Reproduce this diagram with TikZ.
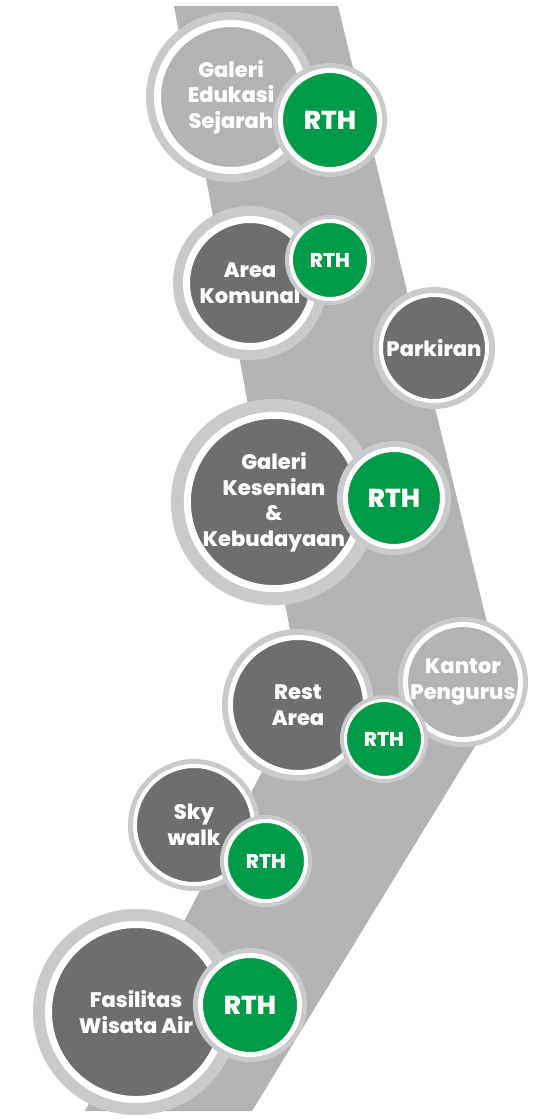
\documentclass[tikz,border=0pt]{standalone}
\usepackage{fontspec}
\setmainfont{Poppins}[BoldFont={Poppins ExtraBold}]
\usetikzlibrary{positioning}

\definecolor{bandgrey}{HTML}{B2B3B5}
\definecolor{ringgrey}{HTML}{C9CACB}
\definecolor{darkfill}{HTML}{6D6E70}
\definecolor{rthgreen}{HTML}{009B48}

\tikzset{
  spot/.style n args={3}{circle, inner sep=0pt, minimum size=#1pt, draw=white, line width=#2pt,
    preaction={draw=ringgrey, line width=#3pt}, text=white, align=center,
    font=\fontsize{21}{25.5}\selectfont\bfseries},
  zone/.style={fill=darkfill},
  office/.style={fill=bandgrey},
  rth/.style={fill=rthgreen, font=\fontsize{20}{24}\selectfont\bfseries},
  bigrth/.style={fill=rthgreen, font=\fontsize{26}{30}\selectfont\bfseries},
}

\begin{document}
\begin{tikzpicture}[x=1pt, y=-1pt]
    \path[use as bounding box, fill=white] (0,0) rectangle (541,1119);

    % walkway band behind everything
    \fill[bandgrey] (174,6) -- (338,6) -- (505,697) -- (252,1111) -- (85,1111) -- (302,695) -- cycle;

    % top gallery and its green space
    \node[spot={147}{7}{23}, office] (edukasi) at (231,97) {Galeri\\Edukasi\\Sejarah};
    \node[spot={99}{5}{15}, bigrth] (rth1) at (330,120) {RTH};

    % communal area
    \node[spot={127}{7}{27}, zone] (komunal) at (250,283) {Area\\Komunal};
    \node[spot={78}{4}{12}, rth] (rth2) at (330,260) {RTH};

    % parking
    \node[spot={106}{4}{16}, zone] (parkiran) at (434,348) {Parkiran};

    % arts and culture gallery
    \node[spot={173}{7}{33}, zone] (kesenian) at (274,502) {Galeri\\Kesenian\\\&\\Kebudayaan};
    \node[spot={97}{5}{17}, bigrth] (rth3) at (394,498) {RTH};

    % office, then rest area in front of it
    \node[spot={115}{5}{15}, office] (kantor) at (463,682) {Kantor\\Pengurus};
    \node[spot={135}{5}{17}, zone] (rest) at (298,705) {Rest\\Area};
    \node[spot={77}{3}{11}, rth] (rth4) at (384,739) {RTH};

    % sky walk
    \node[spot={118}{4}{14}, zone] (skywalk) at (194,825) {Sky\\walk};
    \node[spot={80}{4}{12}, rth] (rth5) at (266,861) {RTH};

    % water tourism at the bottom
    \node[spot={175}{7}{31}, zone] (wisata) at (136,1012) {Fasilitas\\Wisata Air};
    \node[spot={99}{5}{15}, bigrth] (rth6) at (250,1005) {RTH};
\end{tikzpicture}
\end{document}
